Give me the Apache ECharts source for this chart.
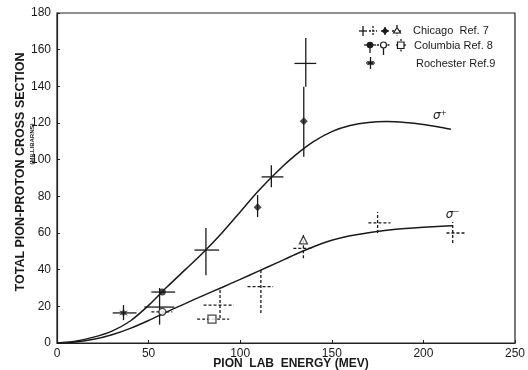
<!DOCTYPE html>
<html>
<head>
<meta charset="utf-8">
<script src="https://cdn.jsdelivr.net/npm/echarts@6/dist/echarts.min.js"></script>
<style>
  html, body { margin: 0; padding: 0; background: #fff; }
  #chart { width: 528px; height: 370px; }
</style>
</head>
<body>
<div id="chart"></div>
<script>
// smooth fit curves (energy in MeV, cross section in mb)
const plusEnergy = [0, 10, 20, 30, 40, 50, 60, 70, 80, 90, 100, 110, 120, 130, 140, 150, 160, 170, 180, 190, 200, 210, 215];
const sigmaPlus = [0, 1, 3.2, 6.5, 12, 20.5, 30.5, 40, 49.5, 60, 71.5, 83, 93.3, 102.3, 109.8, 115.3, 118.6, 120.3, 120.8, 120.3, 119.2, 117.6, 116.6];
const minusEnergy = [0, 10, 20, 30, 40, 50, 60, 70, 80, 90, 100, 110, 120, 130, 140, 150, 160, 170, 180, 190, 200, 210, 216];
const sigmaMinus = [0, 0.6, 2, 4.5, 8, 12.3, 17, 21.5, 26, 30.3, 34.7, 39.2, 43.7, 48.3, 52.5, 56, 58.5, 60.2, 61.5, 62.5, 63.2, 63.7, 64];

// measurements: [energy, sigma, energyLo, energyHi, sigmaLo, sigmaHi]
const chicagoPlus = [
  [56, 19.6, 47.7, 64, 10, 30],
  [81.3, 50.7, 75, 88.5, 37, 62.7],
  [117, 90.6, 111.7, 123.6, 85, 97],
  [135.8, 152.5, 129.6, 141.5, 139.8, 166.4]
];
const chicagoMinus = [
  [89, 20.7, 80, 96.5, 13.6, 29],
  [111.3, 30.7, 104, 118, 16.4, 41],
  [134.5, 51.6, 129, 140, 46.2, 59.8],
  [175, 65.5, 170, 182, 60, 71.5],
  [216, 60, 212.6, 223, 54.6, 66]
];
const chicagoPlusFilled = [
  [109.5, 74, 109.5, 109.5, 68.7, 80.7],
  [134.7, 121, 134.7, 134.7, 101.6, 139.8]
];
const chicagoMinusOpen = [
  [134.5, 56.2, 134.5, 134.5, 56.2, 56.2]
];
const columbiaFilled = [
  [57.5, 27.8, 51.5, 64.5, 27.8, 27.8]
];
const columbiaOpen = [
  [57.5, 17, 51.5, 63, 17, 17]
];
const columbiaSquare = [
  [84.6, 13, 76.5, 94, 13, 13]
];
const rochester = [
  [36.3, 16.4, 30.4, 43.4, 12.5, 20.7]
];

const ink = '#1a1a1a';
const starPath = 'path://M0,-10 L2.6,-3.5 L9.5,-5.5 L4.2,0 L9.5,5.5 L2.6,3.5 L0,10 L-2.6,3.5 L-9.5,5.5 L-4.2,0 L-9.5,-5.5 L-2.6,-3.5Z';

function zip(xs, ys) {
  return xs.map((x, i) => [x, ys[i]]);
}

// error bars drawn through the axes
function errorBars(name, data, dashed) {
  return {
    name: name,
    type: 'custom',
    data: data,
    encode: { x: 0, y: 1 },
    z: 3,
    renderItem: function (params, api) {
      const x = api.value(0), y = api.value(1);
      const l = api.coord([api.value(2), y]);
      const r = api.coord([api.value(3), y]);
      const b = api.coord([x, api.value(4)]);
      const t = api.coord([x, api.value(5)]);
      const style = { stroke: ink, lineWidth: 1.3, lineDash: dashed ? [3, 2] : null };
      const children = [];
      if (r[0] - l[0] > 0.5) {
        children.push({ type: 'line', shape: { x1: l[0], y1: l[1], x2: r[0], y2: r[1] }, style: style });
      }
      if (b[1] - t[1] > 0.5) {
        children.push({ type: 'line', shape: { x1: b[0], y1: b[1], x2: t[0], y2: t[1] }, style: style });
      }
      return { type: 'group', children: children };
    }
  };
}

function markers(name, data, symbol, size, filled) {
  return {
    name: name,
    type: 'scatter',
    data: data.map(d => [d[0], d[1]]),
    symbol: symbol,
    symbolSize: size,
    z: 4,
    itemStyle: { color: filled ? ink : '#fff', borderColor: ink, borderWidth: filled ? 0 : 1.3 }
  };
}

// hand-drawn legend glyphs
function seg(x1, y1, x2, y2, dashed) {
  return { type: 'line', shape: { x1: x1, y1: y1, x2: x2, y2: y2 },
    style: { stroke: ink, lineWidth: 1.3, lineDash: dashed ? [2, 1.5] : null }, z: 10 };
}
function legendText(x, y, text) {
  return { type: 'text', x: x, y: y, z: 10,
    style: { text: text, fill: ink, font: '11px "Liberation Sans", Arial, sans-serif', textVerticalAlign: 'middle' } };
}
function starGlyph(cx, cy, r) {
  const pts = [];
  for (let i = 0; i < 12; i++) {
    const a = i * Math.PI / 6;
    const rr = i % 2 === 0 ? r : r * 0.4;
    pts.push([cx + rr * Math.sin(a), cy - rr * Math.cos(a)]);
  }
  return { type: 'polygon', shape: { points: pts }, style: { fill: ink }, z: 11 };
}

const legendGraphics = [
  // Chicago row
  seg(359, 31, 367, 31), seg(363, 26, 363, 36),
  seg(369, 31, 377, 31, true), seg(373, 26, 373, 36, true),
  seg(381, 31, 389, 31), seg(385, 27, 385, 35),
  { type: 'polygon', shape: { points: [[385, 27.5], [388.5, 31], [385, 34.5], [381.5, 31]] }, style: { fill: ink }, z: 11 },
  seg(392, 31, 402, 31, true), seg(397, 25, 397, 36, true),
  { type: 'polygon', shape: { points: [[397, 27.5], [400.5, 33], [393.5, 33]] }, style: { fill: '#fff', stroke: ink, lineWidth: 1.2 }, z: 11 },
  legendText(413, 31, 'Chicago  Ref. 7'),
  // Columbia row
  seg(364, 45, 376, 45), seg(370, 45, 370, 53),
  { type: 'circle', shape: { cx: 370, cy: 45, r: 3.3 }, style: { fill: ink }, z: 11 },
  seg(377, 45, 390, 45, true), seg(383.5, 45, 383.5, 55),
  { type: 'circle', shape: { cx: 383.5, cy: 45, r: 3 }, style: { fill: '#fff', stroke: ink, lineWidth: 1.2 }, z: 11 },
  seg(396, 45, 406, 45), seg(401, 39, 401, 53, true),
  { type: 'rect', shape: { x: 397.5, y: 42, width: 6.5, height: 6.5 }, style: { fill: '#fff', stroke: ink, lineWidth: 1.2 }, z: 11 },
  legendText(414, 45.5, 'Columbia Ref. 8'),
  // Rochester row
  seg(366, 63, 375, 63), seg(370.5, 57, 370.5, 69),
  starGlyph(370.5, 63, 4.5),
  legendText(416, 63.5, 'Rochester Ref.9')
];

const titleGraphics = [
  { type: 'text', x: 21, y: 172, rotation: Math.PI / 2, z: 10,
    style: { text: 'TOTAL PION-PROTON CROSS SECTION', fill: ink, font: 'bold 12.5px "Liberation Sans", Arial, sans-serif',
      textAlign: 'center', textVerticalAlign: 'middle' } },
  { type: 'text', x: 32, y: 144, rotation: Math.PI / 2, z: 10,
    style: { text: '(MILLIBARNS)', fill: ink, font: 'bold 6px "Liberation Sans", Arial, sans-serif',
      textAlign: 'center', textVerticalAlign: 'middle' } },
  { type: 'text', x: 291, y: 364, z: 10,
    style: { text: 'PION  LAB  ENERGY (MEV)', fill: ink, font: 'bold 12px "Liberation Sans", Arial, sans-serif',
      textAlign: 'center', textVerticalAlign: 'middle' } }
];

const chart = echarts.init(document.getElementById('chart'));
chart.setOption({
  backgroundColor: '#fff',
  animation: false,
  grid: { left: 57, right: 10, top: 13, bottom: 27, show: true, borderColor: '#222', borderWidth: 1.2, backgroundColor: 'transparent' },
  xAxis: {
    type: 'value', min: 0, max: 250, interval: 50,
    axisLine: { lineStyle: { color: '#222', width: 1.2 } },
    axisTick: { inside: true, length: 3, lineStyle: { color: '#222' } },
    splitLine: { show: false },
    axisLabel: { color: ink, fontSize: 12, margin: 5, fontFamily: 'Liberation Sans' }
  },
  yAxis: {
    type: 'value', min: 0, max: 180, interval: 20,
    axisLine: { lineStyle: { color: '#222', width: 1.2 } },
    axisTick: { inside: true, length: 3, lineStyle: { color: '#222' } },
    splitLine: { show: false },
    axisLabel: { color: ink, fontSize: 12, margin: 6, fontFamily: 'Liberation Sans' }
  },
  graphic: legendGraphics.concat(titleGraphics),
  series: [
    {
      name: 'sigma+', type: 'line', data: zip(plusEnergy, sigmaPlus), smooth: 0.3, showSymbol: false,
      lineStyle: { color: ink, width: 1.5 }, z: 2,
      markPoint: {
        symbol: 'circle', symbolSize: 0,
        label: { show: true, color: ink, fontSize: 12, fontStyle: 'italic', fontFamily: 'DejaVu Sans', formatter: '{b}' },
        data: [{ name: 'σ⁺', coord: [209, 124] }]
      }
    },
    {
      name: 'sigma-', type: 'line', data: zip(minusEnergy, sigmaMinus), smooth: 0.3, showSymbol: false,
      lineStyle: { color: ink, width: 1.5 }, z: 2,
      markPoint: {
        symbol: 'circle', symbolSize: 0,
        label: { show: true, color: ink, fontSize: 12, fontStyle: 'italic', fontFamily: 'DejaVu Sans', formatter: '{b}' },
        data: [{ name: 'σ⁻', coord: [216, 70] }]
      }
    },
    errorBars('Chicago +', chicagoPlus, false),
    errorBars('Chicago -', chicagoMinus, true),
    errorBars('Chicago + filled', chicagoPlusFilled, false),
    errorBars('Columbia filled', columbiaFilled, false),
    errorBars('Columbia open', columbiaOpen, true),
    errorBars('Columbia square', columbiaSquare, true),
    errorBars('Rochester', rochester, false),
    markers('Chicago + filled', chicagoPlusFilled, 'diamond', 8, true),
    markers('Chicago - open', chicagoMinusOpen, 'triangle', 8, false),
    markers('Columbia filled', columbiaFilled, 'circle', 7, true),
    markers('Columbia open', columbiaOpen, 'circle', 7, false),
    markers('Columbia square', columbiaSquare, 'rect', 8, false),
    markers('Rochester', rochester, starPath, 9, true)
  ]
});
</script>
</body>
</html>
